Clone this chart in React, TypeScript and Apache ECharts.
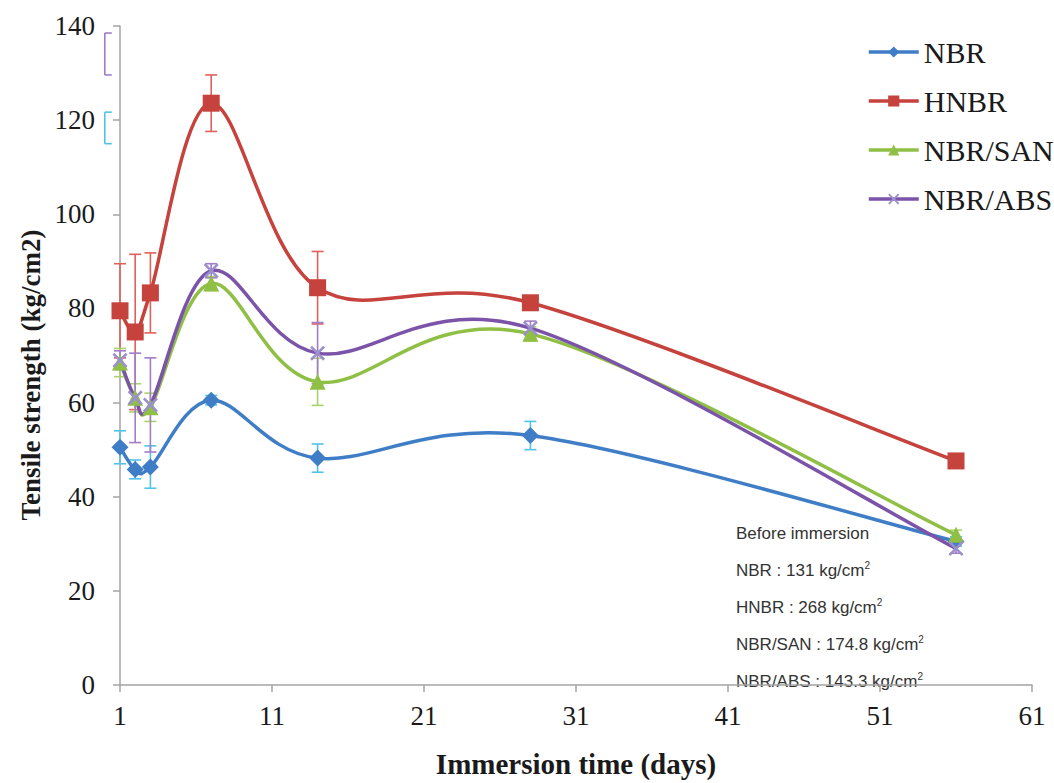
import React, { useEffect, useRef } from "react";
import * as echarts from "echarts";

// ---- data ----
const days = [1, 2, 3, 7, 14, 28, 56];
const nbr = [50.5, 45.8, 46.3, 60.5, 48.2, 53.0, 30.5];
const hnbr = [79.5, 75.0, 83.3, 123.6, 84.4, 81.2, 47.6];
const nbrSan = [68.5, 61.0, 59.0, 85.3, 64.4, 74.6, 31.9];
const nbrAbs = [69.0, 61.0, 59.5, 88.0, 70.5, 75.8, 29.0];

const nbrErr = [3.5, 2.0, 4.5, 1.0, 3.0, 3.0, 1.0];
const hnbrErr = [10.0, 16.5, 8.5, 6.0, 7.7, 1.5, 1.0];
const nbrSanErr = [3.0, 3.0, 3.0, 1.5, 5.0, 1.5, 1.0];
const nbrAbsErr = [2.0, 9.5, 10.0, 1.5, 6.5, 1.5, 1.0];

// stray error brackets drawn at day 0 (left of the axis)
const strayDays = [0, 0];
const strayLow = [115.0, 129.6];
const strayHigh = [121.7, 138.5];

const xTicks = [1, 11, 21, 31, 41, 51, 61];
const yTicks = [0, 20, 40, 60, 80, 100, 120, 140];

const seriesNames = ["NBR", "HNBR", "NBR/SAN", "NBR/ABS"];
const beforeNames = ["NBR", "HNBR", "NBR/SAN", "NBR/ABS"];
const beforeValues = ["131", "268", "174.8", "143.3"];

// ---- styles ----
const COLORS = {
  nbr: "#3f7ec6",
  hnbr: "#c6423d",
  san: "#8fbf45",
  abs: "#7b53a8",
  absMarker: "#9b8fce",
};
const ERR_COLORS = {
  nbr: "#52c2e6",
  hnbr: "#e0605a",
  san: "#a9d26e",
  abs: "#a27ccb",
};
const SERIF = '"Liberation Serif", "DejaVu Serif", serif';
const SANS = '"Liberation Sans", Arial, sans-serif';
const AXIS_GRAY = "#a3a3a3";
const LINE_W = 3.5;

const X_PATH =
  "path://M0,1.2 L1.2,0 L5,3.8 L8.8,0 L10,1.2 L6.2,5 L10,8.8 L8.8,10 L5,6.2 L1.2,10 L0,8.8 L3.8,5 Z";

function errorSeries(name: string, xs: number[], lo: number[], hi: number[], color: string, half = false) {
  return {
    type: "custom",
    name,
    silent: true,
    clip: false,
    z: 1,
    renderItem: (_params: any, api: any) => {
      const x = api.value(0);
      const top = api.coord([x, api.value(2)]);
      const bot = api.coord([x, api.value(1)]);
      const w = 6;
      const style = { stroke: color, lineWidth: 1.6 };
      const l0 = half ? 0 : -w;
      const r0 = half ? w + 1 : w;
      return {
        type: "group",
        children: [
          { type: "line", shape: { x1: top[0], y1: top[1], x2: bot[0], y2: bot[1] }, style },
          { type: "line", shape: { x1: top[0] + l0, y1: top[1], x2: top[0] + r0, y2: top[1] }, style },
          { type: "line", shape: { x1: bot[0] + l0, y1: bot[1], x2: bot[0] + r0, y2: bot[1] }, style },
        ],
      };
    },
    data: xs.map((d, i) => [d, lo[i], hi[i]]),
    encode: { x: 0, y: [1, 2] },
  };
}

function errFrom(vals: number[], errs: number[]) {
  return {
    lo: vals.map((v, i) => v - errs[i]),
    hi: vals.map((v, i) => v + errs[i]),
  };
}

// Excel-like smoothed line (Catmull-Rom style Bezier segments) drawn through the axis scales
function curveSeries(name: string, vals: number[], color: string, z: number) {
  const K = 1 / 6;
  return {
    type: "custom",
    name,
    silent: true,
    z,
    renderItem: (params: any, api: any) => {
      const i = params.dataIndex;
      const n = days.length;
      if (i >= n - 1) return null;
      const P = (j: number) => {
        const k = Math.max(0, Math.min(n - 1, j));
        return api.coord([days[k], vals[k]]);
      };
      const p0 = P(i - 1);
      const p1 = P(i);
      const p2 = P(i + 1);
      const p3 = P(i + 2);
      return {
        type: "bezierCurve",
        shape: {
          x1: p1[0],
          y1: p1[1],
          cpx1: p1[0] + (p2[0] - p0[0]) * K,
          cpy1: p1[1] + (p2[1] - p0[1]) * K,
          cpx2: p2[0] - (p3[0] - p1[0]) * K,
          cpy2: p2[1] - (p3[1] - p1[1]) * K,
          x2: p2[0],
          y2: p2[1],
        },
        style: { stroke: color, lineWidth: LINE_W, fill: "none", lineCap: "round" },
      };
    },
    data: days.map((d, i) => [d, vals[i]]),
    encode: { x: 0, y: 1 },
  };
}

function markerSeries(name: string, vals: number[], color: string, symbol: string, size: number, markerColor?: string) {
  return {
    type: "line",
    name,
    data: days.map((d, i) => [d, vals[i]]),
    symbol,
    symbolSize: size,
    showAllSymbol: true,
    lineStyle: { width: LINE_W, color, opacity: 0 },
    itemStyle: { color: markerColor || color },
    z: 5,
  };
}

export default function App() {
  const ref = useRef<HTMLDivElement>(null);

  useEffect(() => {
    if (!ref.current) return;
    const chart = echarts.init(ref.current, undefined, { renderer: "svg" });

    const e1 = errFrom(nbr, nbrErr);
    const e2 = errFrom(hnbr, hnbrErr);
    const e3 = errFrom(nbrSan, nbrSanErr);
    const e4 = errFrom(nbrAbs, nbrAbsErr);

    const lineColors = [COLORS.nbr, COLORS.hnbr, COLORS.san, COLORS.abs];

    const annotationChildren: any[] = [
      {
        type: "text",
        x: 0,
        y: 0,
        style: { text: "Before immersion", fontSize: 17, fontFamily: SANS, fill: "#333", verticalAlign: "middle" },
      },
      ...beforeNames.map((n, i) => ({
        type: "text",
        x: 0,
        y: 37 * (i + 1),
        style: {
          text: `${n} : ${beforeValues[i]} kg/cm{sup|2}`,
          fontSize: 17,
          fontFamily: SANS,
          fill: "#333",
          verticalAlign: "middle",
          lineHeight: 20,
          rich: {
            sup: { fontSize: 10, fontFamily: SANS, fill: "#333", verticalAlign: "top", lineHeight: 20 },
          },
        },
      })),
    ];

    chart.setOption({
      animation: false,
      backgroundColor: "#ffffff",
      grid: { left: 120, right: 22, top: 26, bottom: 98, containLabel: false },
      legend: {
        data: seriesNames.map((n, i) => ({
          name: n,
          lineStyle: { color: lineColors[i], width: LINE_W, opacity: 1 },
        })),
        orient: "vertical",
        left: 862,
        top: 32,
        itemWidth: 50,
        itemHeight: 14,
        itemGap: 19,
        textStyle: { fontFamily: SERIF, fontSize: 30, color: "#1a1a1a", lineHeight: 30 },
      },
      xAxis: {
        type: "value",
        min: 1,
        max: 61,
        splitLine: { show: false },
        axisLine: { show: true, lineStyle: { color: AXIS_GRAY, width: 1.5 } },
        axisTick: { show: true, length: 7, lineStyle: { color: AXIS_GRAY, width: 1.5 }, customValues: xTicks },
        axisLabel: {
          customValues: xTicks,
          fontFamily: SERIF,
          fontSize: 27,
          color: "#1a1a1a",
          margin: 17,
        },
      },
      yAxis: {
        type: "value",
        min: 0,
        max: 140,
        interval: 20,
        splitLine: { show: false },
        axisLine: { show: true, lineStyle: { color: AXIS_GRAY, width: 1.5 } },
        axisTick: { show: true, length: 7, lineStyle: { color: AXIS_GRAY, width: 1.5 } },
        axisLabel: {
          fontFamily: SERIF,
          fontSize: 27,
          color: "#1a1a1a",
          margin: 25,
          formatter: (v: number) => (yTicks.includes(v) ? String(v) : ""),
        },
      },
      graphic: [
        {
          type: "text",
          x: 31,
          y: 375,
          rotation: Math.PI / 2,
          style: {
            text: "Tensile strength (kg/cm2)",
            fontFamily: SERIF,
            fontWeight: "bold",
            fontSize: 27,
            fill: "#1a1a1a",
            align: "center",
            verticalAlign: "middle",
          },
        },
        {
          type: "text",
          x: 576,
          y: 764,
          style: {
            text: "Immersion time (days)",
            fontFamily: SERIF,
            fontWeight: "bold",
            fontSize: 29,
            fill: "#1a1a1a",
            align: "center",
            verticalAlign: "middle",
          },
        },
        {
          type: "group",
          x: 736,
          y: 533,
          z: 100,
          children: annotationChildren,
        },
      ],
      series: [
        errorSeries("NBR error", days, e1.lo, e1.hi, ERR_COLORS.nbr),
        errorSeries("HNBR error", days, e2.lo, e2.hi, ERR_COLORS.hnbr),
        errorSeries("NBR/SAN error", days, e3.lo, e3.hi, ERR_COLORS.san),
        errorSeries("NBR/ABS error", days, e4.lo, e4.hi, ERR_COLORS.abs),
        errorSeries("stray cyan", [strayDays[0]], [strayLow[0]], [strayHigh[0]], ERR_COLORS.nbr, true),
        errorSeries("stray purple", [strayDays[1]], [strayLow[1]], [strayHigh[1]], ERR_COLORS.abs, true),
        curveSeries("NBR curve", nbr, COLORS.nbr, 2),
        curveSeries("HNBR curve", hnbr, COLORS.hnbr, 2),
        curveSeries("NBR/SAN curve", nbrSan, COLORS.san, 2),
        curveSeries("NBR/ABS curve", nbrAbs, COLORS.abs, 2),
        markerSeries("NBR", nbr, COLORS.nbr, "diamond", 17),
        markerSeries("HNBR", hnbr, COLORS.hnbr, "rect", 17),
        markerSeries("NBR/SAN", nbrSan, COLORS.san, "triangle", 16),
        markerSeries("NBR/ABS", nbrAbs, COLORS.abs, X_PATH, 15, COLORS.absMarker),
      ],
    });

    return () => chart.dispose();
  }, []);

  return (
    <div
      ref={ref}
      style={{ position: "fixed", left: 0, top: 0, width: 1054, height: 783, background: "#fff" }}
    />
  );
}
